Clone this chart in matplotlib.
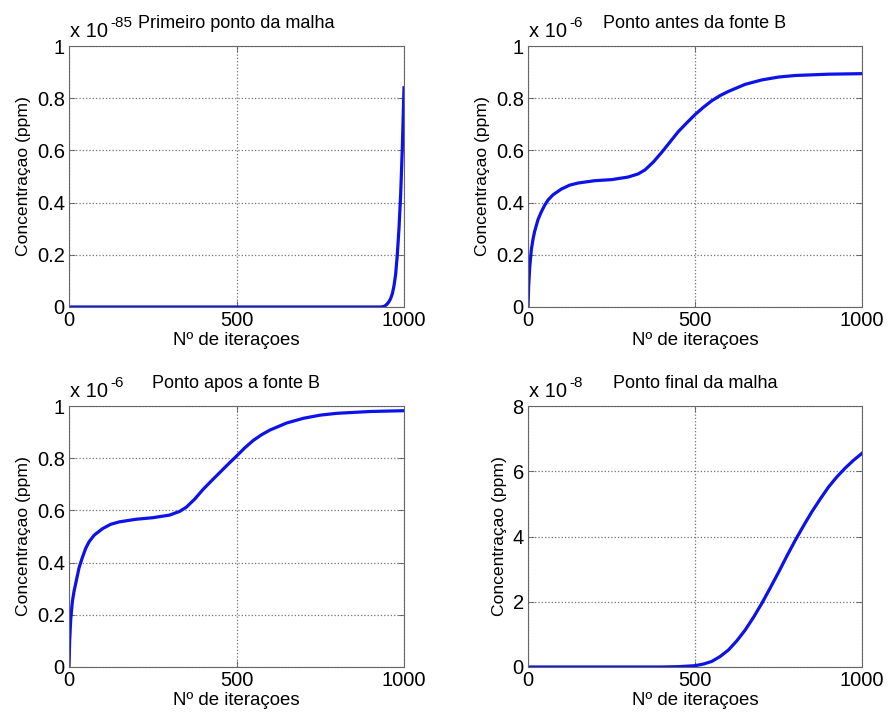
import matplotlib
matplotlib.use("Agg")
import matplotlib.pyplot as plt

plt.rcParams['font.family'] = ['Liberation Sans', 'DejaVu Sans']

# ---- data (values shown on axes, multiplied by the exponent) ----
x_first = [0, 200, 400, 600, 800, 900, 930, 940, 945, 950, 955, 960, 965, 970, 975,
           980, 985, 990, 995, 1000]
y_first = [0, 0, 0, 0, 0, 0, 0, 0.002, 0.006, 0.012, 0.02, 0.032, 0.05, 0.08, 0.125,
           0.2, 0.3, 0.43, 0.61, 0.84]

x_antes = [0, 2, 5, 10, 15, 20, 30, 40, 50, 60, 75, 100, 125, 150, 200, 250, 300,
           330, 350, 375, 400, 425, 450, 475, 500, 525, 550, 575, 600, 650, 700,
           750, 800, 900, 1000]
y_antes = [0.0, 0.08, 0.15, 0.22, 0.26, 0.29, 0.335, 0.365, 0.39, 0.41, 0.43,
           0.452, 0.467, 0.475, 0.484, 0.488, 0.498, 0.51, 0.525, 0.555, 0.592,
           0.632, 0.672, 0.705, 0.737, 0.765, 0.79, 0.81, 0.826, 0.853, 0.87,
           0.881, 0.887, 0.892, 0.894]

x_apos = [0, 2, 5, 10, 15, 20, 30, 40, 50, 60, 75, 100, 125, 150, 200, 250, 300,
          330, 350, 375, 400, 425, 450, 475, 500, 525, 550, 575, 600, 650, 700,
          750, 800, 900, 1000]
y_apos = [0.0, 0.1, 0.18, 0.25, 0.29, 0.32, 0.38, 0.42, 0.455, 0.48, 0.505,
          0.53, 0.547, 0.556, 0.566, 0.572, 0.582, 0.596, 0.612, 0.643, 0.68,
          0.713, 0.745, 0.777, 0.808, 0.84, 0.868, 0.89, 0.908, 0.935, 0.953,
          0.965, 0.972, 0.979, 0.982]

x_final = [0, 100, 200, 300, 400, 450, 500, 525, 550, 575, 600, 625, 650, 675,
           700, 725, 750, 775, 800, 825, 850, 875, 900, 925, 950, 975, 1000]
y_final = [0, 0, 0, 0, 0, 0.01, 0.04, 0.09, 0.17, 0.32, 0.52, 0.8, 1.13, 1.52,
           1.95, 2.42, 2.9, 3.4, 3.88, 4.33, 4.76, 5.15, 5.52, 5.83, 6.1, 6.34, 6.55]

titles = ["Primeiro ponto da malha", "Ponto antes da fonte B",
          "Ponto apos a fonte B", "Ponto final da malha"]
exponents = ["-85", "-6", "-6", "-8"]
yticks_list = [[0, 0.2, 0.4, 0.6, 0.8, 1], [0, 0.2, 0.4, 0.6, 0.8, 1],
               [0, 0.2, 0.4, 0.6, 0.8, 1], [0, 2, 4, 6, 8]]
ytick_labels = [["0", "0.2", "0.4", "0.6", "0.8", "1"]] * 3 + [["0", "2", "4", "6", "8"]]
ylims = [(0, 1), (0, 1), (0, 1), (0, 8)]
xticks = [0, 500, 1000]
xtick_labels = ["0", "500", "1000"]
xlabel = "Nº de iteraçoes"
ylabel = "Concentraçao (ppm)"

series = [(x_first, y_first), (x_antes, y_antes), (x_apos, y_apos), (x_final, y_final)]

W, H = 888, 720
fig = plt.figure(figsize=(W / 100, H / 100), dpi=100)
boxes = [(69, 46, 404, 307), (528, 46, 862, 307), (69, 406, 404, 667), (528, 406, 862, 667)]

for i, (l, t, r, b) in enumerate(boxes):
    ax = fig.add_axes([l / W, 1 - b / H, (r - l) / W, (b - t) / H])
    xs, ys = series[i]
    ax.plot(xs, ys, color='#0c12e8', lw=2.3, solid_joinstyle='round')
    ax.set_xlim(0, 1000)
    ax.set_ylim(*ylims[i])
    ax.set_xticks(xticks)
    ax.set_xticklabels(xtick_labels)
    ax.set_yticks(yticks_list[i])
    ax.set_yticklabels(ytick_labels[i])
    ax.tick_params(direction='in', length=4, width=0.6, labelsize=14.5,
                   top=True, right=True, colors='0.35', labelcolor='black', pad=3)
    ax.grid(True, linestyle=':', color='0.45', lw=0.9)
    for s in ax.spines.values():
        s.set_color('0.4')
        s.set_linewidth(0.8)
    ax.set_xlabel(xlabel, fontsize=13.4, labelpad=1)
    ax.set_ylabel(ylabel, fontsize=12.6, labelpad=4)
    ax.set_title(titles[i], fontsize=13, pad=13)
    ax.annotate("x 10", xy=(0, 1), xycoords='axes fraction',
                xytext=(0.5, 6.5), textcoords='offset points',
                fontsize=14.5, ha='left', va='baseline')
    ax.annotate(exponents[i], xy=(0, 1), xycoords='axes fraction',
                xytext=(29.5, 14), textcoords='offset points',
                fontsize=11, ha='left', va='baseline')

fig.savefig("out.png", dpi=100, facecolor='white')
